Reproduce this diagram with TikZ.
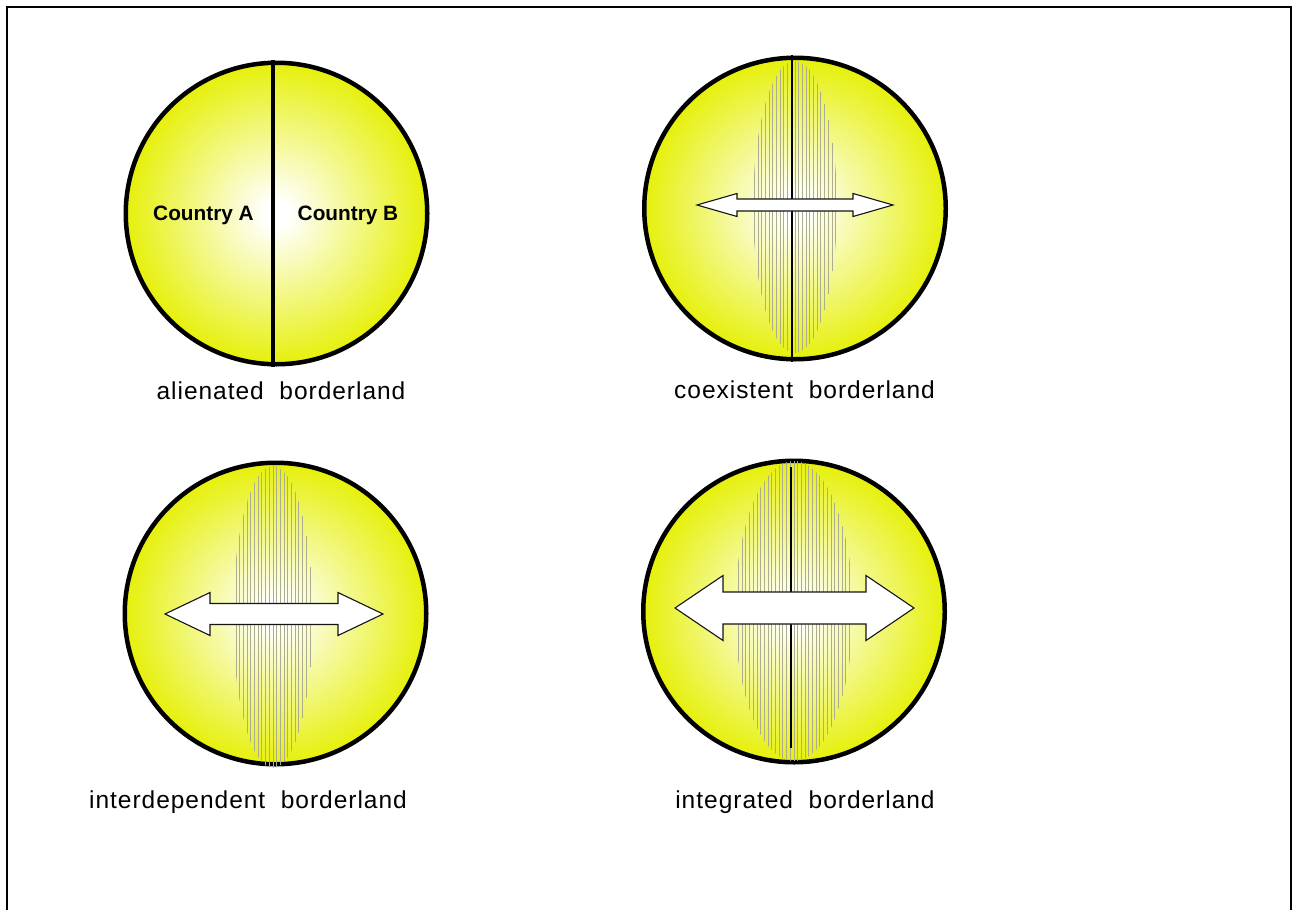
\documentclass[tikz,border=0pt]{standalone}
\usepackage{fontspec}
\setmainfont{Liberation Sans}
\newfontfamily\capfont[LetterSpace=4]{Liberation Sans}
\usetikzlibrary{positioning}
\definecolor{bdyellow}{RGB}{230,240,10}
\definecolor{bdhatch}{RGB}{172,172,145}
\definecolor{bdink}{RGB}{20,20,20}
\pgfdeclareradialshading{bdsun}{\pgfpoint{0bp}{0bp}}{color(0bp)=(white);
  color(2bp)=(white); color(25bp)=(bdyellow); color(50bp)=(bdyellow)}

% two-headed block arrow: cx, cy, half length, head length, head half height, shaft half height
\newcommand\bdarrow[6]{%
  \draw[twoway] (#1-#3,#2) -- ++(#4,-#5) -- ++(0,#5-#6) -- (#1+#3-#4,#2-#6)
    -- ++(0,#6-#5) -- (#1+#3,#2) -- ++(-#4,#5) -- ++(0,#6-#5)
    -- (#1-#3+#4,#2+#6) -- ++(0,#5-#6) -- cycle;}
% hatched border zone: cx, cy, x radius, y radius, line step
\newcommand\bdzone[5]{%
  \begin{scope}
    \clip (#1,#2) ellipse [x radius=#3, y radius=#4];
    \foreach \hx in {0,#5,...,#3} {
      \draw[hatchline] (#1+\hx,#2-#4) -- (#1+\hx,#2+#4);
      \draw[hatchline] (#1-\hx,#2-#4) -- (#1-\hx,#2+#4);
    }
  \end{scope}}

\begin{document}
\begin{tikzpicture}[x=1pt, y=-1pt,
    land/.style={circle, draw=black, line width=4.5pt, minimum size=301.5pt,
                 inner sep=0pt, shading=bdsun},
    hatchline/.style={draw=bdhatch, line width=1pt},
    twoway/.style={draw=bdink, line width=1.1pt, fill=white, line join=miter},
    country/.style={font=\fontsize{20.8}{24}\selectfont\bfseries, anchor=base},
    landcap/.style={font=\capfont\fontsize{24.5}{28}\selectfont, anchor=base}]
  \useasboundingbox (0,0) rectangle (1292,910);
  \draw[line width=2pt] (7,910) -- (7,7) -- (1290.5,7) -- (1290.5,910);

  % alienated
  \node[land] (alien) at (276.5,213.5) {};
  \draw[line width=4pt] (273,60) -- (273,367);
  \node[country] (ctyA) at (203.5,220) {Country A};
  \node[country] (ctyB) at (348,220) {Country B};
  \node[landcap] (alientext) at (281,399) {alienated~~borderland};

  % coexistent
  \node[land] (coex) at (795,208.5) {};
  \bdzone{795}{207}{42}{146}{3.7}
  \draw[line width=1.4pt] (792,55) -- (792,362);
  \bdarrow{795}{205}{98}{40}{11.5}{6}
  \node[landcap] (coextext) at (804.5,398) {coexistent~~borderland};

  % interdependent
  \node[land] (inter) at (275.5,613.5) {};
  \bdzone{273}{617}{40}{151}{3.7}
  \bdarrow{274}{614}{109}{45}{21.5}{10.5}
  \node[landcap] (intertext) at (248,808) {interdependent~~borderland};

  % integrated
  \node[land] (integ) at (794,611.5) {};
  \bdzone{794}{611}{59}{150}{3.7}
  \draw[line width=1.4pt] (791,467) -- (791,748);
  \bdarrow{794.5}{608}{119.5}{48}{32.5}{16}
  \node[landcap] (integtext) at (805,808) {integrated~~borderland};
\end{tikzpicture}
\end{document}
